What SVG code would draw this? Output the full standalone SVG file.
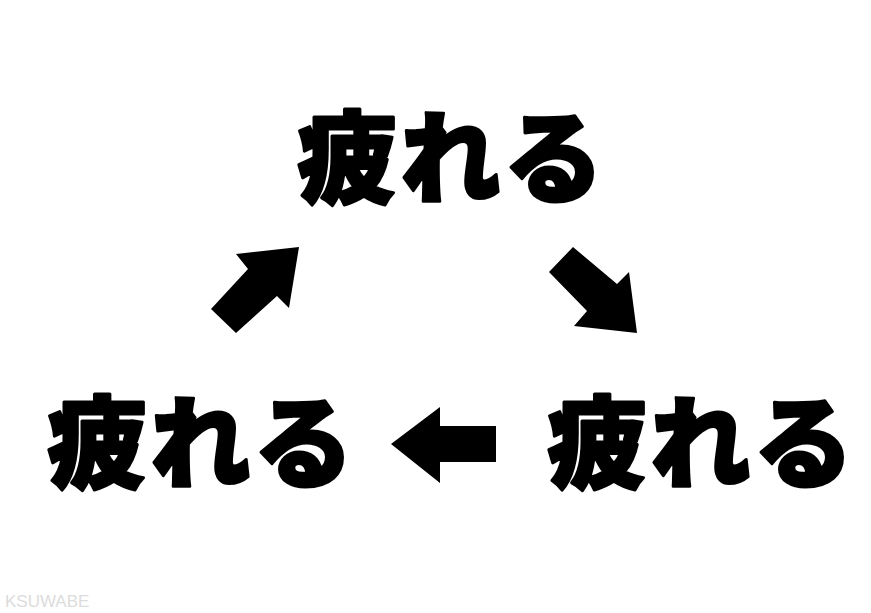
<svg xmlns="http://www.w3.org/2000/svg" width="871" height="613" viewBox="0 0 871 613">
<style>
.t{font-family:"Noto Sans CJK JP","Noto Sans CJK SC",sans-serif;font-weight:900;font-size:100px;fill:#000;stroke:#000;stroke-width:3;stroke-linejoin:round;letter-spacing:3px;text-anchor:middle}
.w{font-family:"Liberation Sans","DejaVu Sans",sans-serif;font-size:17px;fill:#dcdcdc}
</style>
<rect width="871" height="613" fill="#fff"/>
<g id="node-top"><text class="t" x="452" y="195">疲れる</text></g>
<g id="node-left"><text class="t" x="202" y="480">疲れる</text></g>
<g id="node-right"><text class="t" x="702" y="480">疲れる</text></g>
<g id="connectors" fill="#000">
<polygon points="299,247 236,254 248,269 211,309 236,333 277,296 289,308"/>
<polygon points="573,247 549,272 587,311 574,326 637,333 629,272 617,284"/>
<polygon points="391,444 440,407 440,426 496,426 496,462 440,462 440,483"/>
</g>
<text class="w" x="5" y="607">KSUWABE</text>
</svg>
